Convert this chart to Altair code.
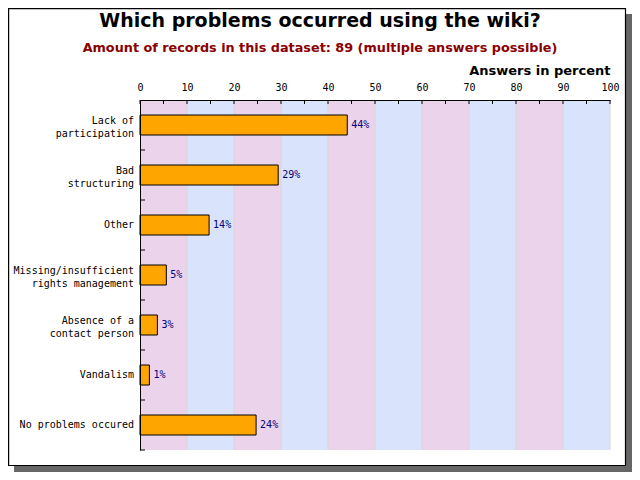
import altair as alt
import pandas as pd

categories = [
    "Lack of\nparticipation",
    "Bad\nstructuring",
    "Other",
    "Missing/insufficient\nrights management",
    "Absence of a\ncontact person",
    "Vandalism",
    "No problems occured",
]
values = [44.1, 29.4, 14.7, 5.6, 3.7, 2.0, 24.7]
value_labels = ["44%", "29%", "14%", "5%", "3%", "1%", "24%"]
x_tick_labels = list(range(0, 101, 10))
minor_ticks = list(range(0, 101, 5))
band_starts = list(range(0, 100, 10))
band_colors = ["#ebd3eb", "#d9e4fc"] * 5

bars_df = pd.DataFrame({"cat": categories, "value": values, "label": value_labels})
bands_df = pd.DataFrame({"start": band_starts,
                         "end": [s + 10 for s in band_starts],
                         "color": band_colors})
ticks_df = pd.DataFrame({"t": minor_ticks})
one = pd.DataFrame({"a": [0]})

MONO = "DejaVu Sans Mono"
SANS = "DejaVu Sans"

xscale = alt.Scale(domain=[0, 100], nice=False, zero=True)
yscale = alt.Scale(domain=categories, paddingInner=0, paddingOuter=0)

shadow_r = alt.Chart(one).mark_rect(color="#666666").encode(
    x=alt.value(486), x2=alt.value(492), y=alt.value(-86), y2=alt.value(372))
shadow_b = alt.Chart(one).mark_rect(color="#666666").encode(
    x=alt.value(-126), x2=alt.value(492), y=alt.value(366), y2=alt.value(372))
frame = alt.Chart(one).mark_rect(fill=None, filled=False, stroke="black", strokeWidth=1.2).encode(
    x=alt.value(-131.4), x2=alt.value(485.5), y=alt.value(-91.4), y2=alt.value(365.5))

bands = alt.Chart(bands_df).mark_rect().encode(
    x=alt.X("start:Q", scale=xscale),
    x2="end:Q",
    y=alt.value(0), y2=alt.value(350),
    color=alt.Color("color:N", scale=None))

seps = alt.Chart(bands_df).mark_rule(color="#d6d6d6", strokeWidth=1).encode(
    x=alt.X("end:Q", scale=xscale),
    y=alt.value(0), y2=alt.value(350))

bars = alt.Chart(bars_df).mark_bar(size=20, color="#ffa500", stroke="black", strokeWidth=1).encode(
    x=alt.X("value:Q", scale=xscale,
            axis=alt.Axis(orient="top", values=x_tick_labels, title="Answers in percent",
                          titleAnchor="end", titleFont=SANS, titleFontSize=13,
                          titleFontWeight="bold", titleColor="black", titlePadding=5,
                          ticks=False, grid=False, domainColor="black", domainWidth=1,
                          labelFont=MONO, labelFontSize=10, labelColor="black",
                          labelPadding=8, labelFlush=False, zindex=1)),
    y=alt.Y("cat:N", sort=categories, scale=yscale,
            axis=alt.Axis(title=None, ticks=False, grid=False, labels=False,
                          domainColor="black", domainWidth=1, zindex=1)))

texts = alt.Chart(bars_df).mark_text(align="left", baseline="middle", dx=4, font=MONO,
                                     fontSize=10, color="#000080").encode(
    x=alt.X("value:Q", scale=xscale),
    y=alt.Y("cat:N", sort=categories, scale=yscale),
    text="label:N")

# category labels (single-line and two-line), right-aligned left of the axis
cat_single = alt.Chart(bars_df).transform_filter(
    "indexof(datum.cat, '\\n') < 0"
).mark_text(align="right", baseline="middle", font=MONO, fontSize=10, color="black").encode(
    x=alt.value(-6),
    y=alt.Y("cat:N", sort=categories, scale=yscale),
    text="cat:N")

cat_double = alt.Chart(bars_df).transform_filter(
    "indexof(datum.cat, '\\n') >= 0"
).transform_calculate(
    lines="split(datum.cat, '\\n')"
).mark_text(align="right", baseline="middle", font=MONO, fontSize=10, color="black",
            lineHeight=12.5, dy=-4).encode(
    x=alt.value(-6),
    y=alt.Y("cat:N", sort=categories, scale=yscale),
    text="lines:N")

ytick = alt.Chart(bars_df).mark_rule(color="black").encode(
    x=alt.value(0), x2=alt.value(5),
    y=alt.Y("cat:N", sort=categories, scale=yscale, bandPosition=1))

xtick = alt.Chart(ticks_df).mark_rule(color="black").encode(
    x=alt.X("t:Q", scale=xscale),
    y=alt.value(0), y2=alt.value(4))

chart = alt.layer(bands, seps, bars, texts, cat_single, cat_double, ytick, xtick,
                  shadow_r, shadow_b, frame).properties(
    width=470, height=350,
    background="white",
    autosize=alt.AutoSizeParams(type="none"),
    padding={"left": 132, "top": 92, "right": 22, "bottom": 22},
    title=alt.TitleParams(
        text="Which problems occurred using the wiki?",
        subtitle="Amount of records in this dataset: 89 (multiple answers possible)",
        font=SANS, fontSize=19, fontWeight="bold", color="black",
        subtitleFont=SANS, subtitleFontSize=12.8, subtitleFontWeight="bold",
        subtitleColor="#8b0000", subtitlePadding=11,
        anchor="middle", frame="group", dx=-55, offset=0, dy=47, zindex=1),
).configure_view(strokeWidth=0)

chart.save("out.html", embed_options={"renderer": "svg", "actions": False})
